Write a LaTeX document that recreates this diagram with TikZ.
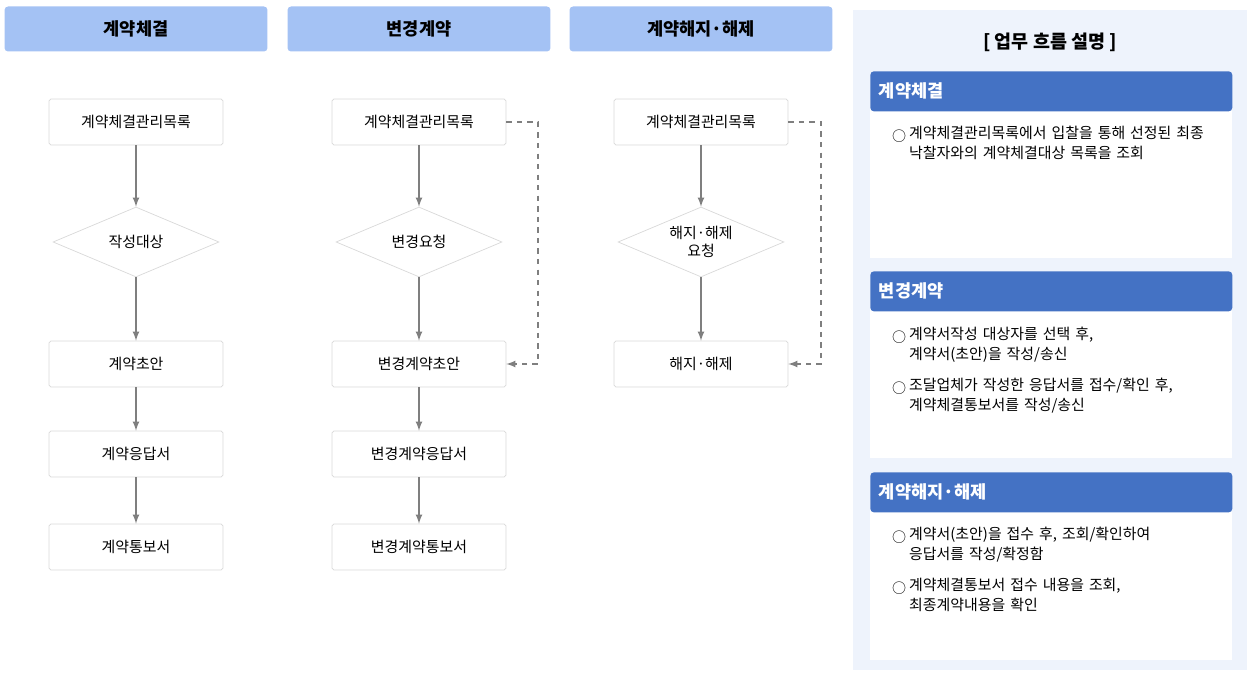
\documentclass[tikz,border=0pt]{standalone}
\usepackage{fontspec}
\setmainfont{Noto Sans CJK KR}
\usetikzlibrary{shapes.geometric}
\definecolor{headblue}{HTML}{A4C2F4}
\definecolor{secblue}{HTML}{4472C4}
\definecolor{panel}{HTML}{EEF3FC}
\definecolor{boxline}{HTML}{D9D9D9}
\definecolor{arrowgray}{HTML}{7F7F7F}
\begin{document}
\begin{tikzpicture}[x=0.02cm,y=-0.02cm,
  head/.style={fill=headblue, rounded corners=2pt, minimum width=5.26cm, minimum height=0.9cm, font=\bfseries\fontsize{10}{12}\selectfont},
  task/.style={draw=boxline, fill=white, rounded corners=1pt, minimum width=3.48cm, minimum height=0.92cm, font=\fontsize{8.5}{10}\selectfont},
  choice/.style={draw=boxline, fill=white, diamond, aspect=2.37, minimum width=3.32cm, minimum height=1.4cm, inner sep=0pt, align=center, font=\fontsize{8.5}{10}\selectfont},
  sec/.style={fill=secblue, text=white, anchor=north west, minimum width=7.24cm, minimum height=0.8cm, text width=6.9cm, rounded corners=2pt, font=\bfseries\fontsize{10}{12}\selectfont},
  item/.style={anchor=north west, text width=6.4cm, font=\fontsize{8.5}{11.5}\selectfont},
  bullet/.style={anchor=north west, font=\fontsize{8}{10}\selectfont},
  flow/.style={draw=arrowgray, thick, -latex},
  backflow/.style={draw=arrowgray, thick, dashed, -latex}]
\useasboundingbox (0,0) rectangle (1252,678);

% Headers
\node[head] (h1) at (136,29) {계약체결};
\node[head] (h2) at (419,29) {변경계약};
\node[head] (h3) at (701,29) {계약해지·해제};

% Contract
\node[task] (a1) at (136,122) {계약체결관리목록};
\node[choice] (a2) at (136,242) {작성대상};
\node[task] (a3) at (136,364) {계약초안};
\node[task] (a4) at (136,454) {계약응답서};
\node[task] (a5) at (136,547) {계약통보서};
\draw[flow] (a1) -- (a2);
\draw[flow] (a2) -- (a3);
\draw[flow] (a3) -- (a4);
\draw[flow] (a4) -- (a5);

% Change
\node[task] (b1) at (419,122) {계약체결관리목록};
\node[choice] (b2) at (419,242) {변경요청};
\node[task] (b3) at (419,364) {변경계약초안};
\node[task] (b4) at (419,454) {변경계약응답서};
\node[task] (b5) at (419,547) {변경계약통보서};
\draw[flow] (b1) -- (b2);
\draw[flow] (b2) -- (b3);
\draw[flow] (b3) -- (b4);
\draw[flow] (b4) -- (b5);
\draw[backflow] (b1.east) -- (538,122) -- (538,364) -- (b3.east);

% Termination
\node[task] (c1) at (701,122) {계약체결관리목록};
\node[choice] (c2) at (701,242) {해지·해제\\요청};
\node[task] (c3) at (701,364) {해지·해제};
\draw[flow] (c1) -- (c2);
\draw[flow] (c2) -- (c3);
\draw[backflow] (c1.east) -- (821,122) -- (821,364) -- (c3.east);

% Description panel
\fill[panel] (853,10) rectangle (1247,670);
\node[font=\bfseries\fontsize{10.5}{12}\selectfont] (title) at (1050,42) {[ 업무 흐름 설명 ]};

\fill[white] (870,100) rectangle (1232,258);
\node[sec] (s1) at (870,71) {계약체결};
\node[bullet] (o1) at (886,124) {○};
\node[item] (t1) at (903,120) {계약체결관리목록에서 입찰을 통해 선정된 최종 낙찰자와의 계약체결대상 목록을 조회};

\fill[white] (870,300) rectangle (1232,458);
\node[sec] (s2) at (870,271) {변경계약};
\node[bullet] (o2) at (886,325) {○};
\node[item] (t2) at (903,321) {계약서작성 대상자를 선택 후,\\계약서(초안)을 작성/송신};
\node[bullet] (o3) at (886,376) {○};
\node[item] (t3) at (903,372) {조달업체가 작성한 응답서를 접수/확인 후,\\계약체결통보서를 작성/송신};

\fill[white] (870,500) rectangle (1232,660);
\node[sec] (s3) at (870,472) {계약해지·해제};
\node[bullet] (o4) at (886,525) {○};
\node[item] (t4) at (903,521) {계약서(초안)을 접수 후, 조회/확인하여\\응답서를 작성/확정함};
\node[bullet] (o5) at (886,576) {○};
\node[item] (t5) at (903,572) {계약체결통보서 접수 내용을 조회,\\최종계약내용을 확인};
\end{tikzpicture}
\end{document}
